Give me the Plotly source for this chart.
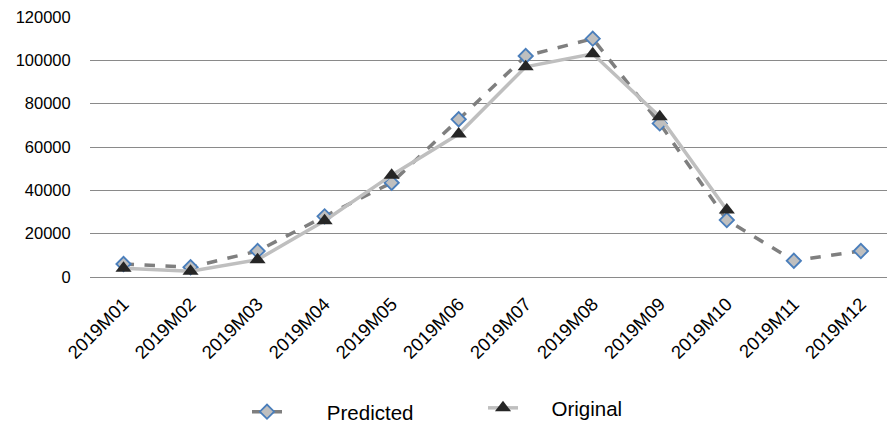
import plotly.graph_objects as go

months = ["2019M01", "2019M02", "2019M03", "2019M04", "2019M05", "2019M06",
          "2019M07", "2019M08", "2019M09", "2019M10", "2019M11", "2019M12"]
predicted = [6000, 4500, 12000, 28000, 43500, 72800, 102000, 110000, 70900, 26300, 7500, 12000]
original = [4000, 2700, 8000, 26000, 47000, 66000, 97000, 103000, 74000, 30900, None, None]
y_ticks = [0, 20000, 40000, 60000, 80000, 100000, 120000]

FONT = "Liberation Sans"
NBSP = "\u00a0"

fig = go.Figure()
fig.add_trace(go.Scatter(
    x=months, y=predicted, name=NBSP * 7 + "Predicted", mode="lines+markers",
    line=dict(color="#7f7f7f", width=3.5, dash="dash"),
    marker=dict(symbol="diamond", size=11, color="#bfbfbf",
                line=dict(color="#4a7ebb", width=1.8)),
    legend="legend",
))
fig.add_trace(go.Scatter(
    x=months, y=original, name=NBSP * 5 + "Original", mode="lines+markers",
    line=dict(color="#bfbfbf", width=3.5),
    marker=dict(symbol="triangle-up", size=14, color="#262626"),
    legend="legend2",
))

fig.update_layout(
    width=887, height=425,
    margin=dict(l=90, r=0, t=17, b=148),
    paper_bgcolor="white", plot_bgcolor="white",
    font=dict(family=FONT, size=17, color="#000000"),
    showlegend=True,
    legend=dict(orientation="h", xref="container", yref="container",
                x=247 / 887, y=0.031, xanchor="left", yanchor="middle",
                font=dict(size=20.5), bgcolor="rgba(0,0,0,0)"),
    legend2=dict(orientation="h", xref="container", yref="container",
                 x=483 / 887, y=0.04, xanchor="left", yanchor="middle",
                 font=dict(size=20.5), bgcolor="rgba(0,0,0,0)"),
)
fig.update_xaxes(
    type="category", range=[-0.5, 11.39], tickangle=-45,
    showgrid=False, showline=False, zeroline=False,
    ticks="outside", ticklen=8, tickcolor="rgba(0,0,0,0)",
    tickfont=dict(size=18.5),
)
fig.update_yaxes(
    range=[0, 120000], tickvals=y_ticks, ticktext=[str(v) for v in y_ticks],
    showgrid=True, gridcolor="#8a8a8a", gridwidth=1.3,
    zeroline=True, zerolinecolor="#8a8a8a", zerolinewidth=1.3,
    showline=False, ticks="outside", ticklen=15, tickcolor="rgba(0,0,0,0)",
    tickfont=dict(size=16.5),
)

fig.write_html("out.html")
